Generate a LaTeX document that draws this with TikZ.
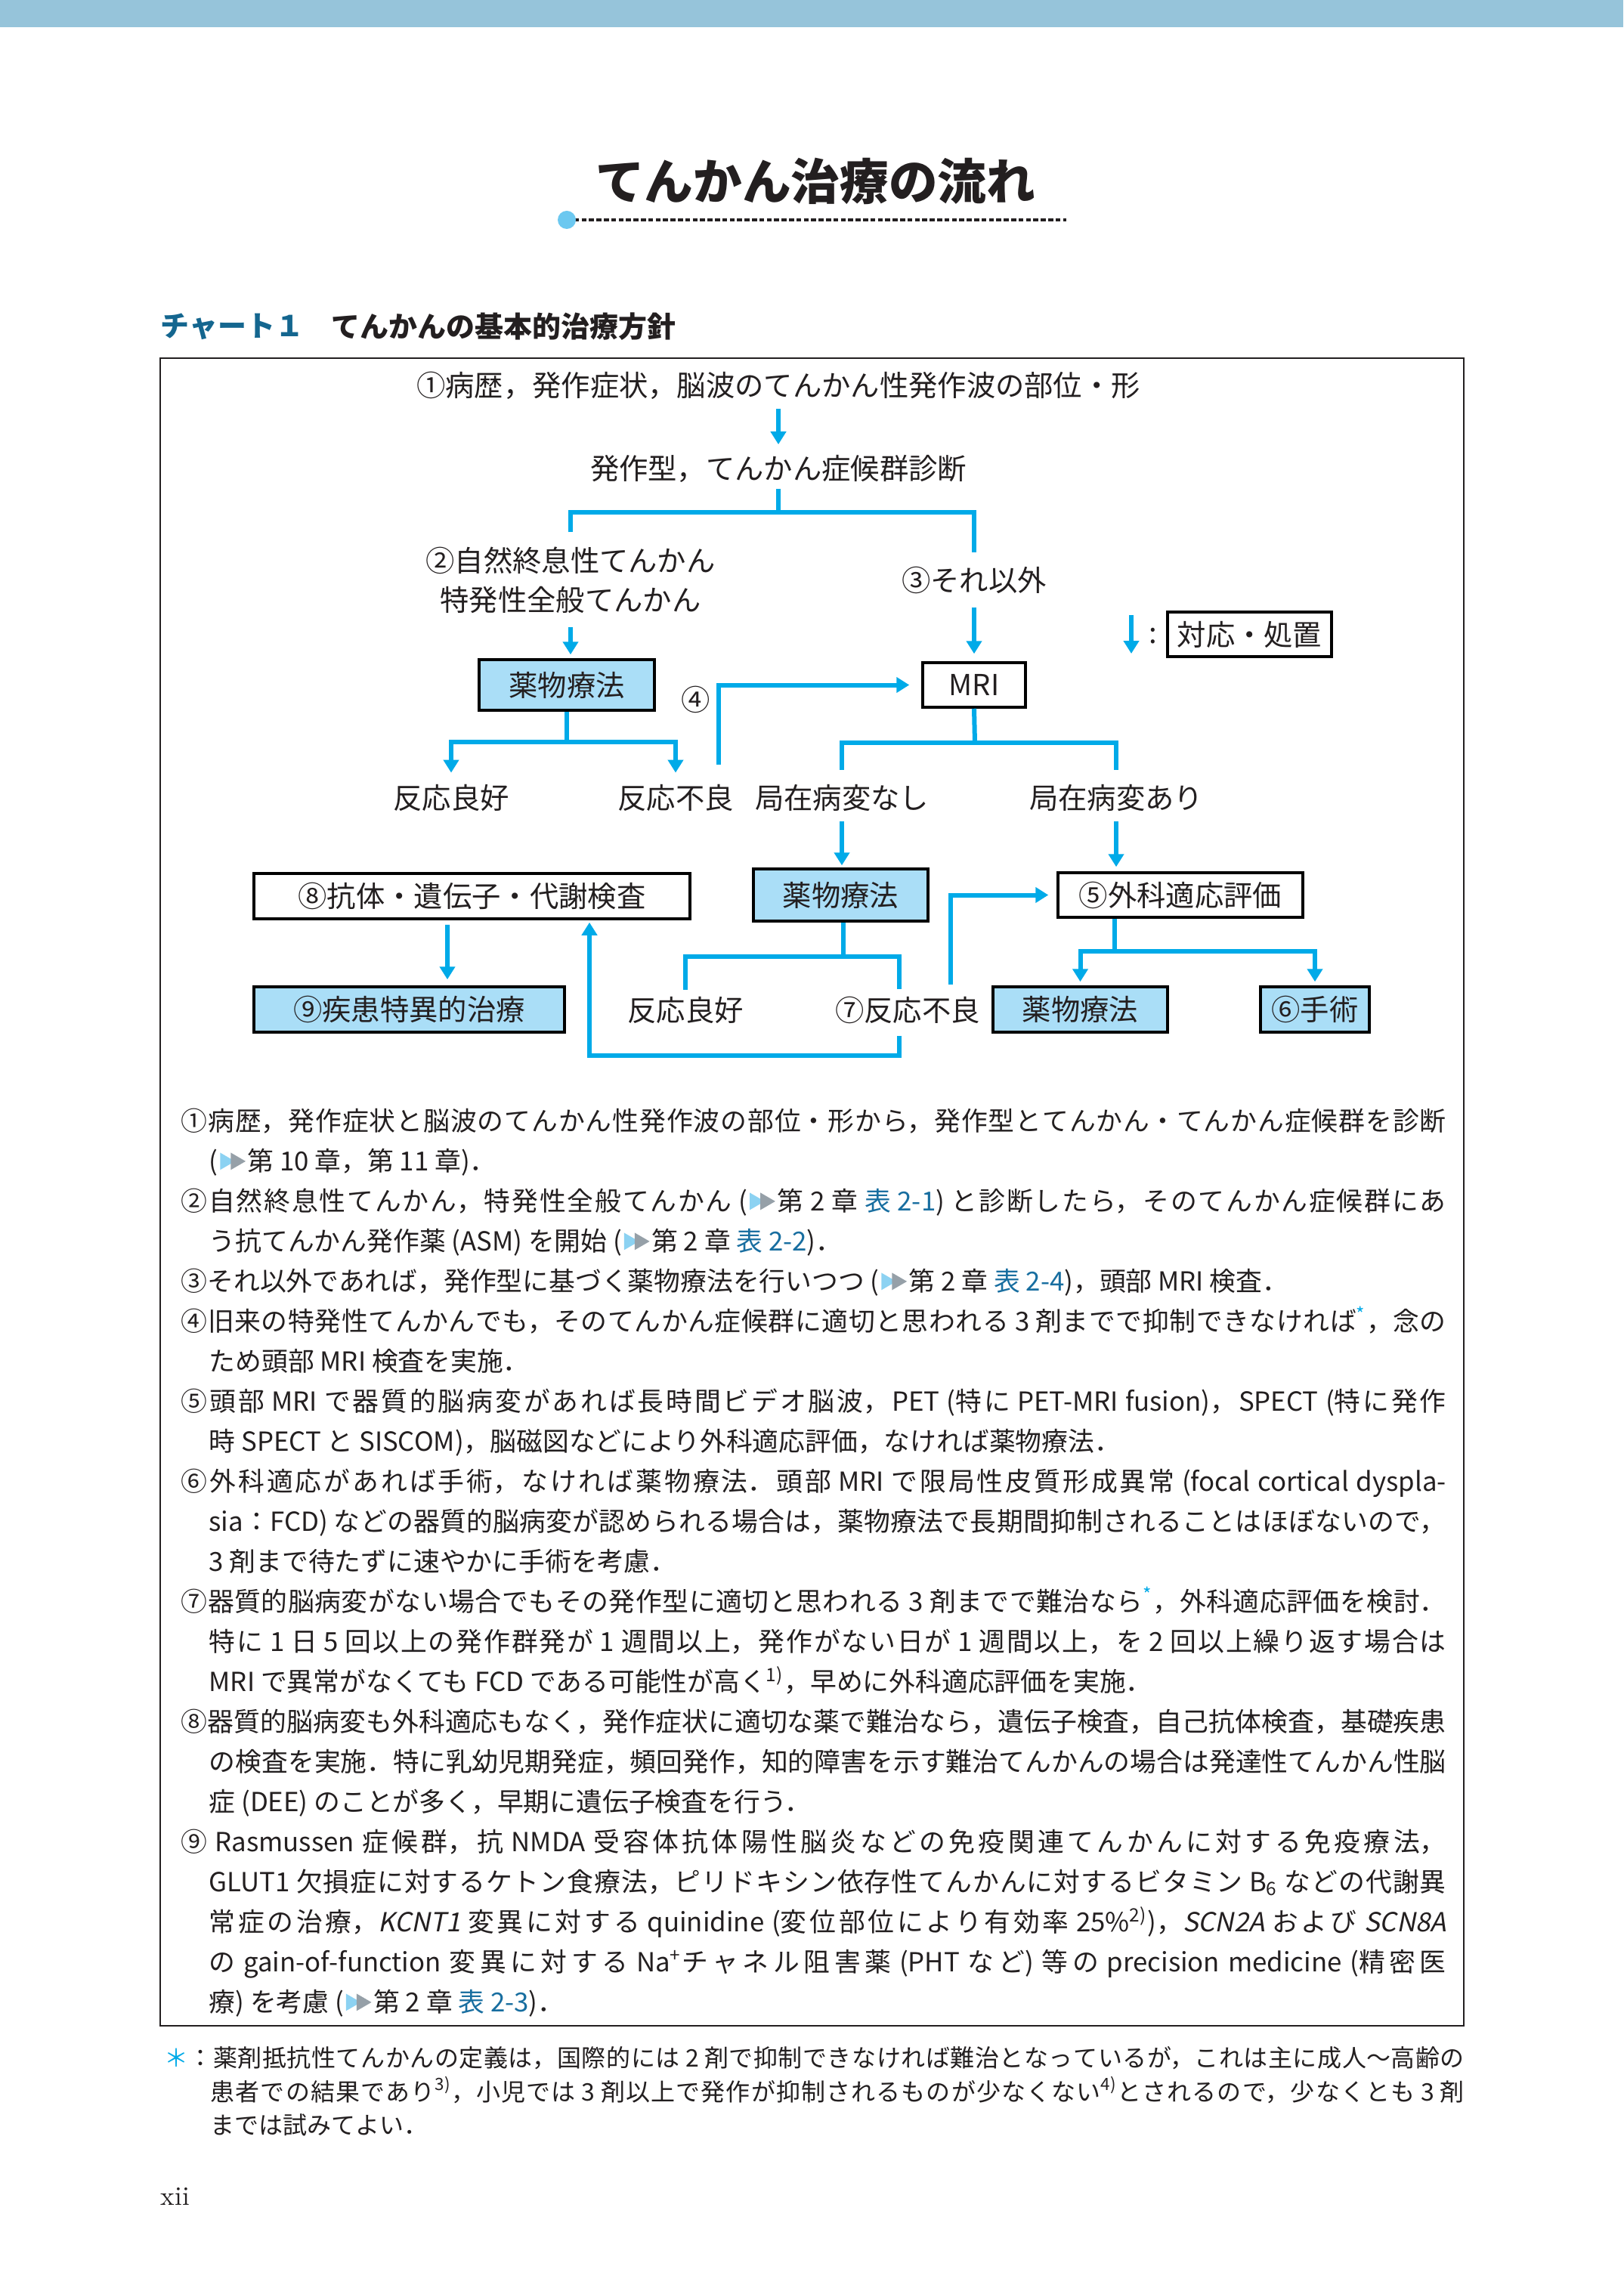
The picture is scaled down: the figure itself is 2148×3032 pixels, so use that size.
\documentclass[tikz,border=0pt]{standalone}
\usepackage{fontspec}
\usetikzlibrary{arrows.meta}
\newfontfamily\jp{Noto Sans CJK JP}
\newfontfamily\jpit[FakeSlant=0.2]{Noto Sans CJK JP}
\XeTeXlinebreaklocale "ja"
\XeTeXlinebreakskip=0pt plus 2pt minus 0.6pt
\definecolor{band}{RGB}{150,196,218}
\definecolor{cy}{RGB}{0,170,232}
\definecolor{boxfill}{RGB}{170,222,247}
\definecolor{headc}{RGB}{20,102,143}
\definecolor{lnk}{RGB}{24,110,160}
\definecolor{dotc}{RGB}{108,200,240}
\definecolor{triA}{RGB}{140,210,242}
\definecolor{triB}{RGB}{150,160,168}
\definecolor{ink}{RGB}{35,31,32}
\newcommand\jl[2]{\parbox[t]{#1}{\tolerance=10000\hbadness=10000\parfillskip=0pt\relax #2}}
\newcommand\tri{\kern0.8pt\tikz[x=1pt,y=1pt,baseline=0pt]{\fill[triA] (0,0.2)--(0,6.7)--(5.6,3.45)--cycle; \fill[triB] (4,0.2)--(4,6.7)--(9.6,3.45)--cycle;}\kern0.8pt}
\newcommand\tb[1]{\textcolor{lnk}{#1}}
\newcommand\astm{\textsuperscript{\textcolor{cy}{*}}}
\newcommand\refn[1]{\textsuperscript{#1)}}
\tikzset{
  ln/.style={cy, line width=0.6mm},
  arr/.style={ln, -{Triangle[length=1.7mm,width=2mm]}},
  arrb/.style={ln, {Triangle[length=1.7mm,width=2mm]}-{Triangle[length=1.7mm,width=2mm]}},
  lab/.style={inner sep=0pt, text=ink, font=\jp\fontsize{10.9pt}{14.8pt}\selectfont},
  wbox/.style={lab, draw=black, line width=0.35mm, fill=white},
  fbox/.style={lab, draw=black, line width=0.35mm, fill=boxfill},
  body/.style={anchor=base west, inner sep=0pt, text=ink, font=\jp\fontsize{9.9pt}{12pt}\selectfont},
  foot/.style={anchor=base west, inner sep=0pt, text=ink, font=\jp\fontsize{9.1pt}{11pt}\selectfont},
  frame/.style={draw=ink, line width=0.22mm},
  dotln/.style={ink, line width=0.36mm, dash pattern=on 0.65mm off 0.33mm}
}
\begin{document}
\begin{tikzpicture}[x=0.1mm, y=-0.1mm]
\useasboundingbox (0,0) rectangle (2148,3032);
\fill[white] (0,0) rectangle (2148,3032);
\fill[band] (0,0) rectangle (2148,36);
% title
\node[inner sep=0pt, text=ink, font=\jp\bfseries\fontsize{18.4pt}{22pt}\selectfont] (title) at (1079,240) {てんかん治療の流れ};
\coordinate (d0) at (750,291);
\coordinate (d1) at (1411,291);
\draw[dotln] (d0) -- (d1);
\fill[dotc] (d0) circle (1.2mm);
% heading
\node[anchor=west, inner sep=0pt, text=headc, font=\jp\bfseries\fontsize{10.8pt}{13pt}\selectfont] (h1) at (212,432) {チャート１};
\node[anchor=west, inner sep=0pt, text=ink, font=\jp\bfseries\fontsize{10.8pt}{13pt}\selectfont] (h2) at (438,432) {てんかんの基本的治療方針};
% frame
\draw[frame] (212,474) rectangle (1937,2681);
% flowchart nodes
\node[lab] (t1) at (1030,510) {①病歴，発作症状，脳波のてんかん性発作波の部位・形};
\node[lab] (t2) at (1030,620) {発作型，てんかん症候群診断};
\node[lab, align=center] (t3) at (755,768) {②自然終息性てんかん\\特発性全般てんかん};
\node[lab] (t4) at (1289,768) {③それ以外};
\node[fbox, minimum width=23.2mm, minimum height=6.7mm] (p1) at (750,906.5) {薬物療法};
\node[wbox, minimum width=13.6mm, minimum height=5.9mm] (mri) at (1289,906.5) {MRI};
\node[lab] (n4) at (921,926) {④};
\node[wbox, minimum width=21.7mm, minimum height=5.9mm] (leg) at (1653.5,839.5) {対応・処置};
\node[lab] (colon) at (1526,842) {:};
\node[lab] (r1) at (597,1056) {反応良好};
\node[lab] (r2) at (894,1056) {反応不良};
\node[lab] (n1) at (1114,1056) {局在病変なし};
\node[lab] (n2) at (1477,1056) {局在病変あり};
\node[wbox, minimum width=57.7mm, minimum height=6.0mm] (s8) at (624.5,1186) {⑧抗体・遺伝子・代謝検査};
\node[fbox, minimum width=23.1mm, minimum height=6.9mm] (p2) at (1112.5,1184.5) {薬物療法};
\node[wbox, minimum width=32.4mm, minimum height=5.9mm] (s5) at (1562,1184.5) {⑤外科適応評価};
\node[fbox, minimum width=41.1mm, minimum height=6.0mm] (s9) at (541.5,1336) {⑨疾患特異的治療};
\node[lab] (g2) at (907,1337) {反応良好};
\node[lab] (bad2) at (1201,1337) {⑦反応不良};
\node[fbox, minimum width=23.1mm, minimum height=6.0mm] (p3) at (1429.5,1336) {薬物療法};
\node[fbox, minimum width=14.4mm, minimum height=6.0mm] (s6) at (1740,1336) {⑥手術};
% connectors
\draw[arr, shorten <=1.2mm, shorten >=1.3mm] (t1.south) -- (t2.north);
\coordinate (j1) at (1030,678);
\draw[ln, shorten <=0.8mm] (t2.south) -- (j1);
\draw[ln, shorten <=1.9mm, shorten >=1.8mm] (t3.north) |- (j1) -| (t4.north);
\draw[arr, shorten <=1.7mm, shorten >=0.5mm] (t3.south) -- (t3.south |- p1.north);
\draw[arr, shorten <=1.7mm, shorten >=1.0mm] (t4.south) -- (t4.south |- mri.north);
\coordinate (j2) at (750,982);
\draw[ln] (p1.south) -- (j2);
\draw[arrb, shorten <=1.5mm, shorten >=1.5mm] (r1.north) |- (j2) -| (r2.north);
\draw[arr, shorten >=1.6mm] ([xshift=5.7mm,yshift=2.6mm]r2.north) |- (mri.west);
\coordinate (j3) at (1290,983);
\draw[ln] (mri.south) -- (j3);
\draw[ln, shorten <=1.9mm, shorten >=1.9mm] (n1.north) |- (j3) -| (n2.north);
\draw[arr, shorten <=1.3mm, shorten >=0.3mm] (n1.south) -- (n1.south |- p2.north);
\draw[arr, shorten <=1.3mm, shorten >=0.6mm] (n2.south) -- (n2.south |- s5.north);
\coordinate (j4) at (1116,1266);
\draw[ln] (p2.south -| j4) -- (j4);
\draw[ln, shorten <=0.9mm, shorten >=0.9mm] (g2.north) |- (j4) -| ([xshift=-1.1mm]bad2.north);
\coordinate (j5) at (780,1397);
\draw[arr, shorten <=1.5mm, shorten >=0.3mm] ([xshift=-1.1mm]bad2.south) |- (j5) -- (j5 |- s8.south);
\draw[arr, shorten >=1.1mm] ([xshift=5.7mm,yshift=1.5mm]bad2.north) |- (s5.west);
\coordinate (j6) at (1475,1259);
\draw[ln] (s5.south -| j6) -- (j6);
\draw[arrb, shorten <=0.5mm, shorten >=0.5mm] (p3.north) |- (j6) -| (s6.north);
\draw[arr, shorten <=0.6mm, shorten >=0.8mm] ([xshift=-3.25mm]s8.south) -- ([xshift=5.05mm]s9.north);
\coordinate (la) at (1497,814);
\coordinate (lb) at (1497,865);
\draw[arr] (la) -- (lb);
% body text
\node[body] (l0) at (239,1496) {\jl{167.4mm}{①病歴，発作症状と脳波のてんかん性発作波の部位・形から，発作型とてんかん・てんかん症候群を診断}};
\node[body] (l1) at (276,1549) {(\tri{}第 10 章，第 11 章)．};
\node[body] (l2) at (239,1602) {\jl{167.4mm}{②自然終息性てんかん，特発性全般てんかん (\tri{}第 2 章 \tb{表 2-1}) と診断したら，そのてんかん症候群にあ}};
\node[body] (l3) at (276,1655) {う抗てんかん発作薬 (ASM) を開始 (\tri{}第 2 章 \tb{表 2-2})．};
\node[body] (l4) at (239,1708) {③それ以外であれば，発作型に基づく薬物療法を行いつつ (\tri{}第 2 章 \tb{表 2-4})，頭部 MRI 検査．};
\node[body] (l5) at (239,1761) {\jl{167.4mm}{④旧来の特発性てんかんでも，そのてんかん症候群に適切と思われる 3 剤までで抑制できなければ\astm{}，念の}};
\node[body] (l6) at (276,1814) {ため頭部 MRI 検査を実施．};
\node[body] (l7) at (239,1867) {\jl{167.4mm}{⑤頭部 MRI で器質的脳病変があれば長時間ビデオ脳波，PET (特に PET-MRI fusion)，SPECT (特に発作}};
\node[body] (l8) at (276,1920) {時 SPECT と SISCOM)，脳磁図などにより外科適応評価，なければ薬物療法．};
\node[body] (l9) at (239,1973) {\jl{167.4mm}{⑥外科適応があれば手術，なければ薬物療法．頭部 MRI で限局性皮質形成異常 (focal cortical dyspla-}};
\node[body] (l10) at (276,2026) {\jl{163.7mm}{sia：FCD) などの器質的脳病変が認められる場合は，薬物療法で長期間抑制されることはほぼないので，}};
\node[body] (l11) at (276,2079) {3 剤まで待たずに速やかに手術を考慮．};
\node[body] (l12) at (239,2132) {\jl{167.4mm}{⑦器質的脳病変がない場合でもその発作型に適切と思われる 3 剤までで難治なら\astm{}，外科適応評価を検討．}};
\node[body] (l13) at (276,2185) {\jl{163.7mm}{特に 1 日 5 回以上の発作群発が 1 週間以上，発作がない日が 1 週間以上，を 2 回以上繰り返す場合は}};
\node[body] (l14) at (276,2238) {MRI で異常がなくても FCD である可能性が高く\refn{1}，早めに外科適応評価を実施．};
\node[body] (l15) at (239,2291) {\jl{167.4mm}{⑧器質的脳病変も外科適応もなく，発作症状に適切な薬で難治なら，遺伝子検査，自己抗体検査，基礎疾患}};
\node[body] (l16) at (276,2344) {\jl{163.7mm}{の検査を実施．特に乳幼児期発症，頻回発作，知的障害を示す難治てんかんの場合は発達性てんかん性脳}};
\node[body] (l17) at (276,2397) {症 (DEE) のことが多く，早期に遺伝子検査を行う．};
\node[body] (l18) at (239,2450) {\jl{167.4mm}{⑨ Rasmussen 症候群，抗 NMDA 受容体抗体陽性脳炎などの免疫関連てんかんに対する免疫療法，}};
\node[body] (l19) at (276,2503) {\jl{163.7mm}{GLUT1 欠損症に対するケトン食療法，ピリドキシン依存性てんかんに対するビタミン B\textsubscript{6} などの代謝異}};
\node[body] (l20) at (276,2556) {\jl{163.7mm}{常症の治療，{\jpit KCNT1} 変異に対する quinidine (変位部位により有効率 25\%\refn{2})，{\jpit SCN2A} および {\jpit SCN8A}}};
\node[body] (l21) at (276,2609) {\jl{163.7mm}{の gain-of-function 変異に対する Na\textsuperscript{+}チャネル阻害薬 (PHT など) 等の precision medicine (精密医}};
\node[body] (l22) at (276,2662) {療) を考慮 (\tri{}第 2 章 \tb{表 2-3})．};
% footnote
\node[foot] (f0) at (217,2735) {\jl{172.0mm}{\textcolor{cy}{＊}：薬剤抵抗性てんかんの定義は，国際的には 2 剤で抑制できなければ難治となっているが，これは主に成人〜高齢の}};
\node[foot] (f1) at (278,2780) {\jl{165.9mm}{患者での結果であり\refn{3}，小児では 3 剤以上で発作が抑制されるものが少なくない\refn{4}とされるので，少なくとも 3 剤}};
\node[foot] (f2) at (278,2824) {までは試みてよい．};
\node[anchor=base west, inner sep=0pt, text=ink, font=\fontsize{10pt}{12pt}\selectfont] (pg) at (212,2918) {xii};
\end{tikzpicture}
\end{document}
